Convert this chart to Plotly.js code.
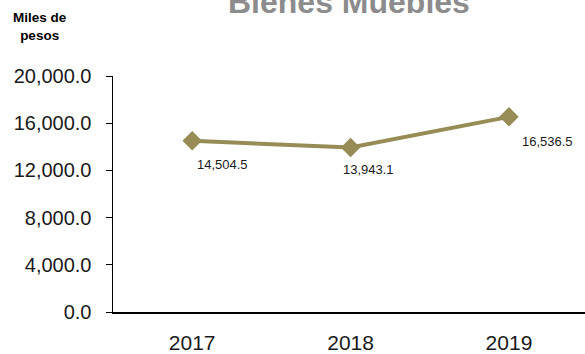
<!DOCTYPE html>
<html><head><meta charset="utf-8">
<script src="https://cdn.plot.ly/plotly-3.0.1.min.js"></script>
<style>html,body{margin:0;padding:0;background:#fff;}#chart{width:585px;height:354px;}</style>
</head><body><div id="chart"></div>
<script>
const years = ['2017', '2018', '2019'];
const values = [14504.5, 13943.1, 16536.5];
const tickVals = [0, 4000, 8000, 12000, 16000, 20000];

const labelShiftX = [30, 18, 39];
const labelShiftY = [-24, -22, -25];

const lineColor = '#978c56';
const fmt = v => v.toLocaleString('en-US', {minimumFractionDigits: 1, maximumFractionDigits: 1});

const annotations = values.map((v, i) => ({
  x: i, y: v, xref: 'x', yref: 'y', text: fmt(v), showarrow: false,
  xshift: labelShiftX[i], yshift: labelShiftY[i],
  font: {family: 'Liberation Sans, Arial, sans-serif', size: 13, color: '#1a1a1a'}
}));
annotations.push({
  text: 'Bienes Muebles', xref: 'paper', yref: 'paper', x: 0.5, y: 1,
  xanchor: 'center', yanchor: 'bottom', yshift: 54, showarrow: false,
  font: {family: 'Liberation Sans, Arial, sans-serif', size: 32, color: '#8c8c8c', weight: 'bold'}
});
annotations.push({
  text: '<b>Miles de<br>pesos</b>', xref: 'paper', yref: 'paper', x: -0.155, y: 1,
  xanchor: 'center', yanchor: 'bottom', yshift: 31, showarrow: false,
  font: {family: 'Liberation Sans, Arial, sans-serif', size: 13.5, color: '#000'}
});

Plotly.newPlot('chart', [{
  x: years, y: values, type: 'scatter', mode: 'lines+markers',
  line: {color: lineColor, width: 4},
  marker: {symbol: 'diamond', size: 15, color: lineColor},
  hoverinfo: 'skip'
}], {
  width: 585, height: 354,
  margin: {l: 113, r: 0, t: 76, b: 42},
  paper_bgcolor: '#fff', plot_bgcolor: '#fff',
  showlegend: false,
  xaxis: {
    type: 'category', range: [-0.5, 2.48], showgrid: false, zeroline: false,
    showline: true, linecolor: '#000', linewidth: 1.5, ticks: '',
    tickfont: {family: 'Liberation Sans, Arial, sans-serif', size: 21, color: '#1a1a1a'},
    ticklabelstandoff: 11
  },
  yaxis: {
    range: [0, 20000], tickvals: tickVals, tickformat: ',.1f', showgrid: false, zeroline: false,
    showline: true, linecolor: '#000', linewidth: 1.5, ticks: 'outside', ticklen: 6, tickcolor: '#000',
    tickfont: {family: 'Liberation Sans, Arial, sans-serif', size: 20, color: '#1a1a1a'},
    ticklabelstandoff: 10
  },
  annotations: annotations
}, {staticPlot: true});
</script></body></html>
